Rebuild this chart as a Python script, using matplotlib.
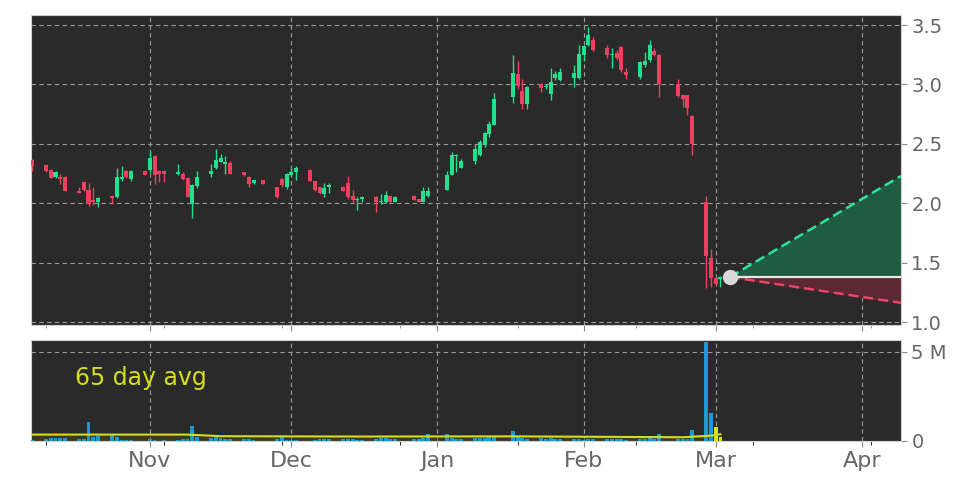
import numpy as np
import pandas as pd
import matplotlib
matplotlib.use('Agg')
import matplotlib.pyplot as plt
import matplotlib.dates as mdates
from matplotlib.ticker import FixedLocator

# trading days shown (US holidays skipped)
holidays = ['2022-11-24', '2022-12-26', '2023-01-02', '2023-01-16', '2023-02-20']
dates = pd.bdate_range('2022-10-07', '2023-03-02', freq='C', holidays=holidays)

opens = [2.365, 2.326, 2.28, 2.22, 2.22, 2.22, 2.105, 2.18, 2.11, 2.03, 2.01, 2.065, 2.05, 2.205, 2.27, 2.205, 2.27,
         2.28, 2.40, 2.27, 2.27, 2.245, 2.25, 2.215, 1.995, 2.145, 2.245, 2.30, 2.35, 2.335, 2.34, 2.26, 2.225, 2.17, 2.195,
         2.14, 2.205, 2.14,
         2.24, 2.26, 2.28, 2.19, 2.14, 2.075, 2.14, 2.14, 2.17, 2.065, 2.025, 2.04, 2.055, 2.01, 2.01, 2.065, 2.015,
         2.065, 2.035, 2.015, 2.06,
         2.114, 2.242, 2.40, 2.30, 2.355, 2.41, 2.49, 2.58, 2.66, 2.895, 3.085, 2.943, 2.838, 3.0, 2.98, 2.923, 3.057,
         3.037, 3.057, 3.057,
         3.25, 3.33, 3.378, 3.307, 3.25, 3.264, 3.312, 3.108, 3.065, 3.165, 3.207, 3.284, 3.25, 3.0, 2.91, 2.91, 2.733,
         2.015, 1.54,
         1.37, 1.36]
highs = [2.37, 2.33, 2.29, 2.275, 2.245, 2.23, 2.14, 2.19, 2.17, 2.14, 2.05, 2.07, 2.30, 2.31, 2.28, 2.28, 2.28,
         2.44, 2.41, 2.28, 2.28, 2.33, 2.26, 2.22, 2.16, 2.27, 2.33, 2.46, 2.415, 2.40, 2.36, 2.265, 2.23, 2.20, 2.195,
         2.14, 2.21, 2.255,
         2.30, 2.315, 2.285, 2.19, 2.14, 2.17, 2.175, 2.145, 2.23, 2.11, 2.05, 2.06, 2.06, 2.08, 2.10, 2.07, 2.06,
         2.07, 2.04, 2.14, 2.135,
         2.27, 2.43, 2.415, 2.37, 2.50, 2.53, 2.60, 2.695, 2.925, 3.25, 3.20, 3.05, 2.99, 3.01, 3.0, 3.14, 3.11,
         3.14, 3.165, 3.335,
         3.33, 3.48, 3.40, 3.335, 3.307, 3.29, 3.32, 3.136, 3.20, 3.27, 3.378, 3.31, 3.26, 3.05, 2.915, 2.915, 2.74,
         2.063, 1.617,
         1.38, 1.39]
lows = [2.275, 2.265, 2.21, 2.21, 2.16, 2.10, 2.09, 2.10, 1.98, 1.985, 1.965, 1.995, 2.045, 2.19, 2.21, 2.19, 2.235,
        2.26, 2.16, 2.18, 2.18, 2.24, 2.20, 2.05, 1.88, 2.13, 2.225, 2.29, 2.345, 2.25, 2.245, 2.23, 2.135, 2.165, 2.165,
        2.045, 2.14, 2.12,
        2.235, 2.20, 2.185, 2.10, 2.08, 2.05, 2.09, 2.10, 2.035, 2.01, 1.94, 2.01, 1.93, 1.995, 2.00, 2.01, 2.01,
        2.025, 2.01, 2.01, 2.05,
        2.11, 2.235, 2.26, 2.30, 2.335, 2.40, 2.47, 2.555, 2.655, 2.84, 2.965, 2.795, 2.795, 2.94, 2.96, 2.867, 3.04,
        3.03, 2.98, 3.05,
        3.20, 3.32, 3.28, 3.22, 3.136, 3.207, 3.108, 3.045, 3.045, 3.15, 3.19, 3.236, 2.895, 2.895, 2.81, 2.74, 2.41,
        1.29, 1.296,
        1.313, 1.30]
closes = [2.317, 2.27, 2.213, 2.267, 2.205, 2.10, 2.09, 2.11, 1.995, 2.01, 2.045, 2.045, 2.22, 2.225, 2.22, 2.27, 2.24,
          2.38, 2.24, 2.25, 2.25, 2.26, 2.205, 2.055, 2.15, 2.22, 2.27, 2.365, 2.385, 2.345, 2.25, 2.235, 2.16, 2.195, 2.165,
          2.05, 2.15, 2.25,
          2.265, 2.30, 2.19, 2.11, 2.085, 2.125, 2.155, 2.105, 2.05, 2.03, 2.03, 2.055, 2.01, 2.02, 2.07, 2.015, 2.055,
          2.03, 2.015, 2.10, 2.10,
          2.242, 2.41, 2.41, 2.355, 2.455, 2.515, 2.59, 2.667, 2.88, 3.094, 2.99, 2.838, 2.98, 2.97, 2.985, 3.017, 3.085,
          3.108, 3.094, 3.256,
          3.32, 3.415, 3.293, 3.25, 3.26, 3.22, 3.122, 3.08, 3.193, 3.20, 3.335, 3.25, 3.0, 2.903, 2.875, 2.80, 2.497,
          1.56, 1.375,
          1.325, 1.38]

# volume in millions
volume = [0.06, 0.10, 0.15, 0.15, 0.15, 0.15, 0.10, 0.12, 1.05, 0.20, 0.30, 0.37, 0.20, 0.06, 0.06, 0.06, 0.02,
          0.12, 0.06, 0.02, 0.03, 0.06, 0.10, 0.12, 0.86, 0.25, 0.18, 0.25, 0.15, 0.12, 0.12, 0.12, 0.12, 0.04, 0.02,
          0.12, 0.27, 0.08,
          0.06, 0.06, 0.02, 0.06, 0.10, 0.10, 0.10, 0.12, 0.12, 0.10, 0.08, 0.06, 0.12, 0.15, 0.15, 0.12, 0.10,
          0.10, 0.10, 0.15, 0.40,
          0.37, 0.18, 0.12, 0.10, 0.15, 0.15, 0.18, 0.25, 0.27, 0.56, 0.25, 0.18, 0.10, 0.15, 0.12, 0.15, 0.12,
          0.10, 0.10, 0.10,
          0.08, 0.10, 0.10, 0.12, 0.12, 0.10, 0.10, 0.08, 0.12, 0.12, 0.15, 0.12, 0.38, 0.13, 0.13, 0.13, 0.63,
          5.55, 1.56,
          0.76, 0.25]

# 65 day average (millions)
avg_dates = ['2022-10-07', '2022-11-09', '2022-11-16', '2022-12-15', '2023-01-17', '2023-02-22', '2023-02-28', '2023-03-02']
avg_vals = [0.36, 0.36, 0.27, 0.25, 0.26, 0.21, 0.30, 0.38]

last_price = 1.38
proj_high = 2.23
proj_low = 1.163
proj_start = pd.Timestamp('2023-03-04')
proj_end = pd.Timestamp('2023-04-09 07:00')

GREEN = '#22e08e'
RED = '#ee3f5f'
BG = '#2a2a2a'
GRIDC = '#9a9a9a'
TXT = '#666666'

o = np.array(opens); h = np.array(highs); l = np.array(lows); c = np.array(closes)
x = mdates.date2num(dates)
up = c >= o
cols = np.where(up, GREEN, RED)

fig = plt.figure(figsize=(9.72, 4.86), dpi=100)
ax = fig.add_axes([0.0319, 0.331, 0.895, 0.638])
axv = fig.add_axes([0.0319, 0.0926, 0.895, 0.2078], sharex=ax)

for a in (ax, axv):
    a.set_facecolor(BG)
    a.grid(True, color=GRIDC, linestyle=(0, (4, 3)), linewidth=0.8)
    a.set_axisbelow(True)
    a.yaxis.tick_right()
    for s in a.spines.values():
        s.set_color('#d0d0d0')
        s.set_linewidth(0.8)
    a.tick_params(colors='#888888', labelcolor=TXT, length=4)

# candles
ax.vlines(x, l, h, color=cols, linewidth=1, zorder=3)
ax.bar(x, np.maximum(np.abs(c - o), 0.01), bottom=np.minimum(o, c), width=0.88, color=cols, zorder=4)

# projection cone
xp = mdates.date2num([proj_start, proj_end])
ax.fill_between(xp, [last_price, last_price], [last_price, proj_high], color='#1f5c42', zorder=2)
ax.fill_between(xp, [last_price, proj_low], [last_price, last_price], color='#5c2832', zorder=2)
ax.plot(xp, [last_price, proj_high], color='#2ee39b', linestyle=(0, (4, 2)), linewidth=1.8, zorder=5)
ax.plot(xp, [last_price, proj_low], color='#e8456a', linestyle=(0, (4, 2)), linewidth=1.8, zorder=5)
ax.plot(xp, [last_price, last_price], color='#e8e8e8', linewidth=1.6, zorder=5)
ax.plot(xp[0], last_price, 'o', markersize=10, color='#d9d9d9', zorder=6)

ax.set_ylim(0.975, 3.584)
ax.set_yticks([1.0, 1.5, 2.0, 2.5, 3.0, 3.5])
ax.set_yticklabels(['1.0', '1.5', '2.0', '2.5', '3.0', '3.5'], fontsize=14)

ax.set_xlim(mdates.date2num(pd.Timestamp('2022-10-06 19:00')), xp[1])
ax.xaxis.set_major_locator(mdates.MonthLocator())
ax.xaxis.set_major_formatter(mdates.DateFormatter('%b'))
ax.xaxis.set_minor_locator(FixedLocator(mdates.date2num(pd.date_range('2022-10-10', '2023-04-30', freq='25D'))))
ax.tick_params(axis='x', which='both', labelbottom=False, colors='#888888')

# volume
vcols = ['#1b9ad6'] * (len(volume) - 2) + ['#d9e21c'] * 2
axv.bar(x, np.array(volume) * 1e6, width=0.8, color=vcols, zorder=3)
ad = mdates.date2num(pd.to_datetime(avg_dates))
av = np.array(avg_vals) * 1e6
axv.fill_between(ad, 0, av, color='#5a4a14', alpha=0.45, zorder=2, linewidth=0)
axv.plot(ad, av, color='#d4dc1e', linewidth=1.5, zorder=4)
axv.set_ylim(0, 5.67e6)
axv.set_yticks([0, 5e6])
axv.set_yticklabels(['0', '5 M'], fontsize=14)
axv.tick_params(axis='x', which='major', labelsize=16, length=4)
axv.tick_params(axis='x', which='minor', length=3)
axv.text(0.05, 0.62, '65 day avg', transform=axv.transAxes, color='#d4e01a', fontsize=17, va='center')

fig.savefig('out.png', dpi=100, facecolor='white')
